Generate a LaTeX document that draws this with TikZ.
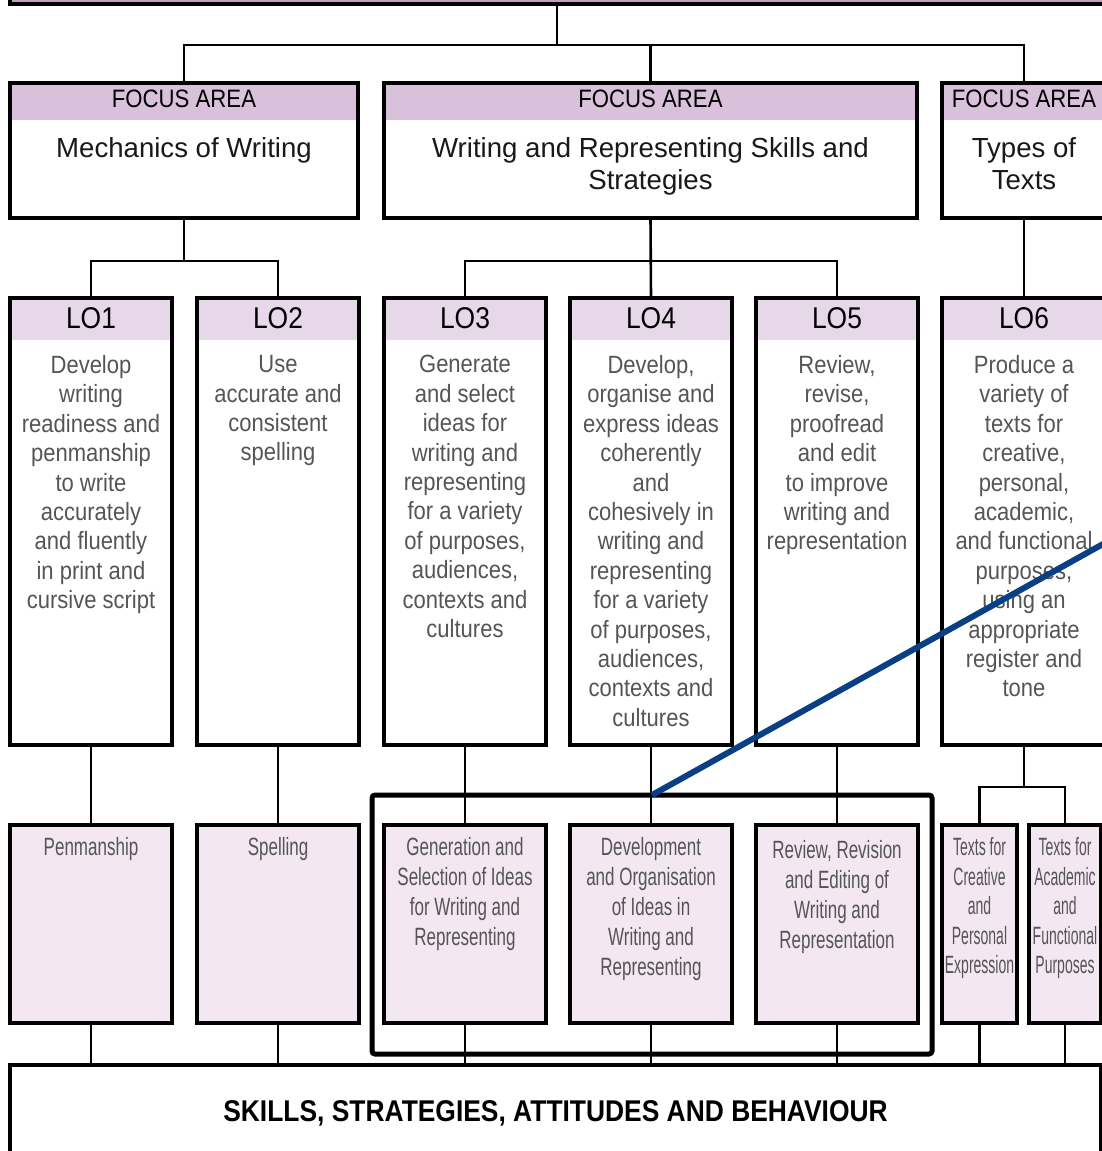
\documentclass[tikz,border=0pt]{standalone}
\usepackage{fontspec}
\setmainfont[FakeStretch=0.88]{Liberation Sans}
\newfontfamily\titlefont{Liberation Sans}
\newfontfamily\narrowfont[FakeStretch=0.68]{Liberation Sans}
\newfontfamily\xnarrowfont[FakeStretch=0.56]{Liberation Sans}
\usepackage{xcolor}
\usetikzlibrary{positioning}
\definecolor{toppurple}{HTML}{C39BC3}
\definecolor{faband}{HTML}{D9C0DB}
\definecolor{loband}{HTML}{E6D8E8}
\definecolor{subfill}{HTML}{F3E8F2}
\definecolor{bodygray}{HTML}{555555}
\definecolor{calloutblue}{HTML}{0B3F84}

\tikzset{
  box/.style={draw=black, line width=1.6pt, anchor=north west, inner sep=0pt, outer sep=0pt},
  fabox/.style={box, fill=white, minimum height=67.5pt,
    path picture={\fill[faband] (path picture bounding box.north west) rectangle ([yshift=-18.5pt]path picture bounding box.north east);}},
  lobox/.style={box, fill=white, minimum width=81pt, minimum height=223.5pt,
    path picture={\fill[loband] (path picture bounding box.north west) rectangle ([yshift=-21pt]path picture bounding box.north east);}},
  subbox/.style={box, fill=subfill, minimum width=81pt, minimum height=99pt},
  hlbox/.style={box, line width=2.5pt, rounded corners=1.5pt, minimum width=280pt, minimum height=129.5pt},
  conn/.style={line width=1.3pt},
  callout/.style={calloutblue, line width=3pt},
  fahtext/.style={font=\fontsize{12.6}{14}\selectfont, inner sep=0pt},
  fatitle/.style={font=\titlefont\fontsize{13.8}{16}\selectfont, align=center, inner sep=0pt, text=black!90},
  lohtext/.style={font=\fontsize{15}{17}\selectfont, inner sep=0pt},
  lobody/.style={font=\fontsize{12.5}{14.7}\selectfont, align=center, inner sep=0pt, text=bodygray},
  subtext/.style={font=\narrowfont\fontsize{12.5}{15}\selectfont, align=center, inner sep=0pt, text=bodygray},
  subtextx/.style={subtext, font=\xnarrowfont\fontsize{12.5}{14.75}\selectfont},
  skillstext/.style={font=\bfseries\fontsize{15}{17}\selectfont, inner sep=0pt}
}

\begin{document}
\begin{tikzpicture}[x=0.5pt, y=-0.5pt]
  \useasboundingbox (0,0) rectangle (1102,1151);
  \clip (0,0) rectangle (1102,1151);
  \fill[white] (0,0) rectangle (1102,1151);

  % top box (cut off)
  \node[box, fill=toppurple, anchor=south, minimum width=547pt, minimum height=40pt] (top) at (557,4) {};

  % focus areas
  \node[fabox, minimum width=174pt] (fa1) at (10,83) {};
  \node[fabox, minimum width=266.5pt] (fa2) at (384,83) {};
  \node[fabox, minimum width=82pt] (fa3) at (942,83) {};
  \node[fahtext, below=3.5pt of fa1.north] (fa1h) {FOCUS AREA};
  \node[fahtext, below=3.5pt of fa2.north] (fa2h) {FOCUS AREA};
  \node[fahtext, below=3.5pt of fa3.north] (fa3h) {FOCUS AREA};
  \node[fatitle, below=27pt of fa1.north] (fa1t) {Mechanics of Writing};
  \node[fatitle, below=27pt of fa2.north] (fa2t) {Writing and Representing Skills and\\Strategies};
  \node[fatitle, below=27pt of fa3.north] (fa3t) {Types of\\Texts};

  % learning outcomes
  \node[lobox] (lo1) at (10,298) {};
  \node[lobox] (lo2) at (197,298) {};
  \node[lobox] (lo3) at (384,298) {};
  \node[lobox] (lo4) at (570,298) {};
  \node[lobox] (lo5) at (756,298) {};
  \node[lobox, minimum width=82pt] (lo6) at (942,298) {};
  \node[lohtext, below=4.5pt of lo1.north] (lo1h) {LO1};
  \node[lohtext, below=4.5pt of lo2.north] (lo2h) {LO2};
  \node[lohtext, below=4.5pt of lo3.north] (lo3h) {LO3};
  \node[lohtext, below=4.5pt of lo4.north] (lo4h) {LO4};
  \node[lohtext, below=4.5pt of lo5.north] (lo5h) {LO5};
  \node[lohtext, below=4.5pt of lo6.north] (lo6h) {LO6};
  \node[lobody, below=28.5pt of lo1.north] (lo1b) {Develop\\writing\\readiness and\\penmanship\\to write\\accurately\\and fluently\\in print and\\cursive script};
  \node[lobody, below=28.5pt of lo2.north] (lo2b) {Use\\accurate and\\consistent\\spelling};
  \node[lobody, below=28.5pt of lo3.north] (lo3b) {Generate\\and select\\ideas for\\writing and\\representing\\for a variety\\of purposes,\\audiences,\\contexts and\\cultures};
  \node[lobody, below=28.5pt of lo4.north] (lo4b) {Develop,\\organise and\\express ideas\\coherently\\and\\cohesively in\\writing and\\representing\\for a variety\\of purposes,\\audiences,\\contexts and\\cultures};
  \node[lobody, below=28.5pt of lo5.north] (lo5b) {Review,\\revise,\\proofread\\and edit\\to improve\\writing and\\representation};
  \node[lobody, below=28.5pt of lo6.north] (lo6b) {Produce a\\variety of\\texts for\\creative,\\personal,\\academic,\\and functional\\purposes,\\using an\\appropriate\\register and\\tone};

  % sub boxes
  \node[subbox] (sub1) at (10,825) {};
  \node[subbox] (sub2) at (197,825) {};
  \node[subbox] (sub3) at (384,825) {};
  \node[subbox] (sub4) at (570,825) {};
  \node[subbox] (sub5) at (756,825) {};
  \node[subbox, minimum width=37.5pt] (sub6a) at (942,825) {};
  \node[subbox, minimum width=36pt] (sub6b) at (1029,825) {};
  \node[subtext, below=6pt of sub1.north] (sub1t) {Penmanship};
  \node[subtext, below=6pt of sub2.north] (sub2t) {Spelling};
  \node[subtext, below=6pt of sub3.north] (sub3t) {Generation and\\Selection of Ideas\\for Writing and\\Representing};
  \node[subtext, below=6pt of sub4.north] (sub4t) {Development\\and Organisation\\of Ideas in\\Writing and\\Representing};
  \node[subtext, below=7.5pt of sub5.north] (sub5t) {Review, Revision\\and Editing of\\Writing and\\Representation};
  \node[subtextx, below=6pt of sub6a.north] (sub6at) {Texts for\\Creative\\and\\Personal\\Expression};
  \node[subtextx, below=6pt of sub6b.north] (sub6bt) {Texts for\\Academic\\and\\Functional\\Purposes};

  % bottom box
  \node[box, minimum width=545.5pt, minimum height=50pt] (skills) at (10,1065) {};
  \node[skillstext, below=17.5pt of skills.north] (skillst) {SKILLS, STRATEGIES, ATTITUDES AND BEHAVIOUR};

  % connectors
  \coordinate (bus1) at (557,45);
  \coordinate (bus2) at (0,261);
  \coordinate (bus3) at (0,787);
  \draw[conn] (top.south) -- (bus1);
  \draw[conn] (fa1.north) |- (bus1) -| (fa3.north);
  \draw[conn] (fa2.north) -- (fa2.north |- bus1);
  \draw[conn] (fa1.south) -- (fa1.south |- bus2);
  \draw[conn] (lo1.north) |- (fa1.south |- bus2) -| (lo2.north);
  \draw[conn] (fa2.south) -- (lo4.north);
  \draw[conn] (lo3.north) |- (lo4.north |- bus2) -| (lo5.north);
  \draw[conn] (fa3.south) -- (lo6.north);
  \draw[conn] (lo1.south) -- (sub1.north);
  \draw[conn] (lo2.south) -- (sub2.north);
  \draw[conn] (lo3.south) -- (sub3.north);
  \draw[conn] (lo4.south) -- (sub4.north);
  \draw[conn] (lo5.south) -- (sub5.north);
  \draw[conn] (lo6.south) -- (lo6.south |- bus3);
  \draw[conn] (sub6a.north) |- (lo6.south |- bus3) -| (sub6b.north);
  \draw[conn] (sub1.south) -- (sub1.south |- skills.north);
  \draw[conn] (sub2.south) -- (sub2.south |- skills.north);
  \draw[conn] (sub3.south) -- (sub3.south |- skills.north);
  \draw[conn] (sub4.south) -- (sub4.south |- skills.north);
  \draw[conn] (sub5.south) -- (sub5.south |- skills.north);
  \draw[conn] (sub6a.south) -- (sub6a.south |- skills.north);
  \draw[conn] (sub6b.south) -- (sub6b.south |- skills.north);

  % highlight and callout
  \node[hlbox] (hl) at (372,795) {};
  \coordinate (calloutend) at (1112,539);
  \draw[callout] (hl.north) -- (calloutend);
\end{tikzpicture}
\end{document}
